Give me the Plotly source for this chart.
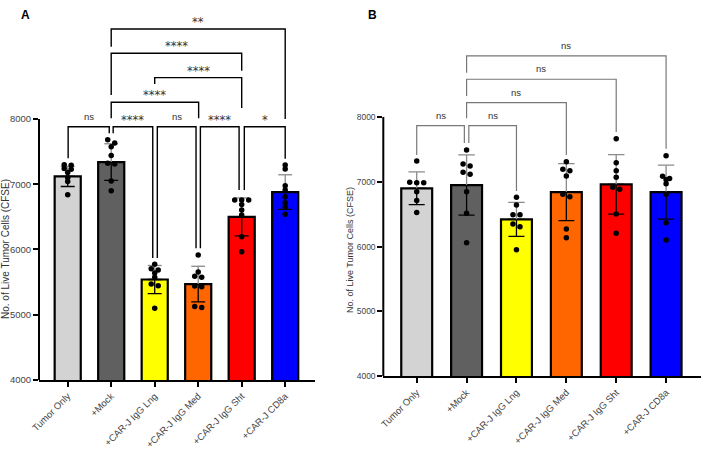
import plotly.graph_objects as go

# ---------------- data ----------------
categories = ["Tumor Only", "+Mock", "+CAR-J IgG Lng", "+CAR-J IgG Med",
              "+CAR-J IgG Sht", "+CAR-J CD8a"]
tick_values = [4000, 5000, 6000, 7000, 8000]

# Panel A
a_mean = [7120, 7340, 5540, 5470, 6500, 6880]
a_sd = [155, 280, 215, 273, 290, 265]
a_tumor = [7300, 7290, 7240, 7230, 7180, 7100, 7040, 6840]
a_mock = [7680, 7630, 7575, 7440, 7320, 7310, 7050, 6900]
a_lng = [5775, 5705, 5685, 5640, 5575, 5470, 5445, 5100]
a_med = [5915, 5655, 5590, 5575, 5440, 5430, 5125, 5110]
a_sht = [6760, 6760, 6760, 6690, 6605, 6530, 6195, 5965]
a_cd8 = [7295, 7235, 6975, 6910, 6810, 6715, 6655, 6540]

# Panel B
b_mean = [6900, 6950, 6420, 6840, 6960, 6840]
b_sd = [252, 465, 262, 440, 458, 417]
b_tumor = [7320, 6995, 6987, 6987, 6848, 6710, 6525]
b_mock = [7490, 7275, 7245, 7147, 7116, 6848, 6515, 6060]
b_lng = [6760, 6643, 6490, 6490, 6350, 6308, 5953]
b_med = [7310, 7193, 7172, 7090, 6808, 6771, 6272, 6138]
b_sht = [7665, 7295, 7172, 7070, 6916, 6885, 6504, 6206]
b_cd8 = [7403, 7085, 7050, 7030, 6970, 6808, 6370, 6103]

a_labels = ["ns", "****", "ns", "****", "*", "****", "****", "****", "**"]
b_labels = ["ns", "ns", "ns", "ns", "ns"]

# ---------------- style / layout ----------------
bar_colors = ["#D3D3D3", "#606060", "#FFFF00", "#FF6600", "#FF0000", "#0000FF"]
FONT = "Liberation Sans, Arial, sans-serif"
STAR_FONT = "DejaVu Sans, sans-serif"
W, H = 701, 451
T, B = 10, 71
PH = H - T - B

# bracket geometry: (x_left, x_right, y_horizontal, y_left_end, y_right_end, text_y)
a_brackets = [
    (0.01, 0.955, 7882, 7400, 7781, 7882),
    (1.045, 1.955, 7882, 7781, 5870, 7882),
    (2.06, 2.95, 7882, 5870, 6018, 7882),
    (3.05, 3.94, 7882, 6018, 6912, 7882),
    (4.06, 5.0, 7882, 6912, 7390, 7882),
    (1.0, 3.01, 8256, 8010, 8010, 8256),
    (2.0, 4.0, 8633, 8536, 8169, 8633),
    (1.0, 4.0, 9007, 8368, 8740, 9007),
    (1.0, 5.0, 9379, 9108, 8000, 9379),
]
b_brackets = [
    (0.0, 0.955, 7866, 7414, 7600, 7866),
    (1.045, 2.0, 7866, 7600, 6859, 7866),
    (1.0, 3.0, 8221, 7980, 7414, 8221),
    (1.0, 4.0, 8582, 8324, 7770, 8582),
    (1.0, 5.0, 8941, 8683, 7510, 8941),
]


def swarm(vals, py_per_val, px_per_unit, step_px=7.0, thr_px=3.5):
    order = sorted(range(len(vals)), key=lambda i: -vals[i])
    rows = []
    for i in order:
        if rows and (vals[rows[-1][0]] - vals[i]) * py_per_val < thr_px:
            rows[-1].append(i)
        else:
            rows.append([i])
    offs = [0.0] * len(vals)
    for r in rows:
        n = len(r)
        for k, i in enumerate(r):
            offs[i] = (k - (n - 1) / 2) * step_px / px_per_unit
    return offs


fig = go.Figure()


def add_panel(xa, ya, means, sds, groups, py_per_val, px_per_unit, cap_units, cap_px, bw):
    xs = list(range(len(categories)))
    fig.add_trace(go.Bar(
        x=xs, y=means, base=0, width=bw,
        marker=dict(color=bar_colors, line=dict(color="black", width=2.2)),
        error_y=dict(type="data", symmetric=False, array=[0] * len(means),
                     arrayminus=sds, color="black", thickness=1.3, width=cap_px),
        xaxis=xa, yaxis=ya, hoverinfo="skip", showlegend=False))
    # upper part of error bars (grey)
    ex, ey = [], []
    for i, (m, s) in enumerate(zip(means, sds)):
        ex += [i, i, None, i - cap_units, i + cap_units, None]
        ey += [m + 1, m + s, None, m + s, m + s, None]
    fig.add_trace(go.Scatter(x=ex, y=ey, mode="lines",
                             line=dict(color="#8a8a8a", width=1.3),
                             xaxis=xa, yaxis=ya, hoverinfo="skip", showlegend=False))
    px_, py_ = [], []
    for i, g in enumerate(groups):
        offs = swarm(g, py_per_val, px_per_unit)
        px_ += [i + o for o in offs]
        py_ += g
    fig.add_trace(go.Scatter(x=px_, y=py_, mode="markers",
                             marker=dict(color="black", size=5.5),
                             xaxis=xa, yaxis=ya, hoverinfo="skip", showlegend=False))


add_panel("x", "y", a_mean, a_sd, [a_tumor, a_mock, a_lng, a_med, a_sht, a_cd8],
          65.25 / 1000, 43.5, 0.16, 7, 0.6)
add_panel("x2", "y2", b_mean, b_sd, [b_tumor, b_mock, b_lng, b_med, b_sht, b_cd8],
          64.83 / 1000, 49.86, 0.165, 8, 0.62)

shapes = []
annotations = []


def add_brackets(brs, labels, xr, yr, color, lw):
    for (x0, x1, yh, yl, yrr, ty), lab in zip(brs, labels):
        shapes.append(dict(type="path", xref=xr, yref=yr,
                           path=f"M {x0},{yl} L {x0},{yh} L {x1},{yh} L {x1},{yrr}",
                           line=dict(color=color, width=lw)))
        star = "*" in lab
        annotations.append(dict(x=(x0 + x1) / 2, y=ty, xref=xr, yref=yr,
                                text=lab, showarrow=False, xanchor="center",
                                yanchor="bottom", yshift=-2 if star else 3,
                                font=dict(family=STAR_FONT if star else FONT,
                                          size=11.5 if star else 9.5, color="#333")))


add_brackets(a_brackets, a_labels, "x", "y", "black", 1.4)
add_brackets(b_brackets, b_labels, "x2", "y2", "#777", 1.2)

# y axis lines (only 4000-8000)
shapes.append(dict(type="line", xref="x domain", yref="y", x0=0, x1=0, y0=4000, y1=8000,
                   line=dict(color="black", width=2)))
shapes.append(dict(type="line", xref="x2 domain", yref="y2", x0=0, x1=0, y0=4000, y1=8000,
                   line=dict(color="black", width=2)))

ytitle = "No. of Live Tumor Cells (CFSE)"
annotations.append(dict(x=5 / W, y=(380 - 249) / PH, xref="paper", yref="paper",
                        text=ytitle, textangle=-90, showarrow=False,
                        xanchor="center", yanchor="middle",
                        font=dict(family=FONT, size=10, color="#333")))
annotations.append(dict(x=350 / W, y=(380 - 250) / PH, xref="paper", yref="paper",
                        text=ytitle, textangle=-90, showarrow=False,
                        xanchor="center", yanchor="middle",
                        font=dict(family=FONT, size=9, color="#333")))
annotations.append(dict(x=25 / W, y=(380 - 15) / PH, xref="paper", yref="paper",
                        text="<b>A</b>", showarrow=False, xanchor="center", yanchor="middle",
                        font=dict(family=FONT, size=12, color="black")))
annotations.append(dict(x=372 / W, y=(380 - 15) / PH, xref="paper", yref="paper",
                        text="<b>B</b>", showarrow=False, xanchor="center", yanchor="middle",
                        font=dict(family=FONT, size=12, color="black")))

xcommon = dict(tickvals=list(range(6)), ticktext=categories, tickangle=-45,
               showline=True, linewidth=2, linecolor="black", ticks="outside",
               ticklen=5, tickwidth=2, tickcolor="black", showgrid=False,
               zeroline=False, tickfont=dict(family=FONT, size=9.5, color="#444"),
               fixedrange=True, automargin=False)
ycommon = dict(tickvals=tick_values, ticks="outside", ticklen=5, tickwidth=1.5,
               tickcolor="black", showline=False, showgrid=False, zeroline=False,
               fixedrange=True, automargin=False)

fig.update_layout(
    width=W, height=H,
    margin=dict(l=0, r=0, t=T, b=B, autoexpand=False),
    paper_bgcolor="white", plot_bgcolor="white",
    showlegend=False,
    xaxis=dict(domain=[39 / W, 315 / W], range=[-0.66, 5.685], anchor="y", **xcommon),
    yaxis=dict(domain=[0, 1], range=[4000, 9670], anchor="x",
               tickfont=dict(family=FONT, size=9.5, color="#444"), **ycommon),
    xaxis2=dict(domain=[383.3 / W, 1.0], range=[-0.67, 5.70], anchor="y2", **xcommon),
    yaxis2=dict(domain=[(380 - 376.3) / PH, 1], range=[4000, 9650], anchor="x2",
                tickfont=dict(family=FONT, size=8.5, color="#444"), **ycommon),
    shapes=shapes, annotations=annotations,
)

fig.write_html("out.html", config={"displayModeBar": False},
               post_script="document.body.style.margin='0';document.body.style.overflow='hidden';")
